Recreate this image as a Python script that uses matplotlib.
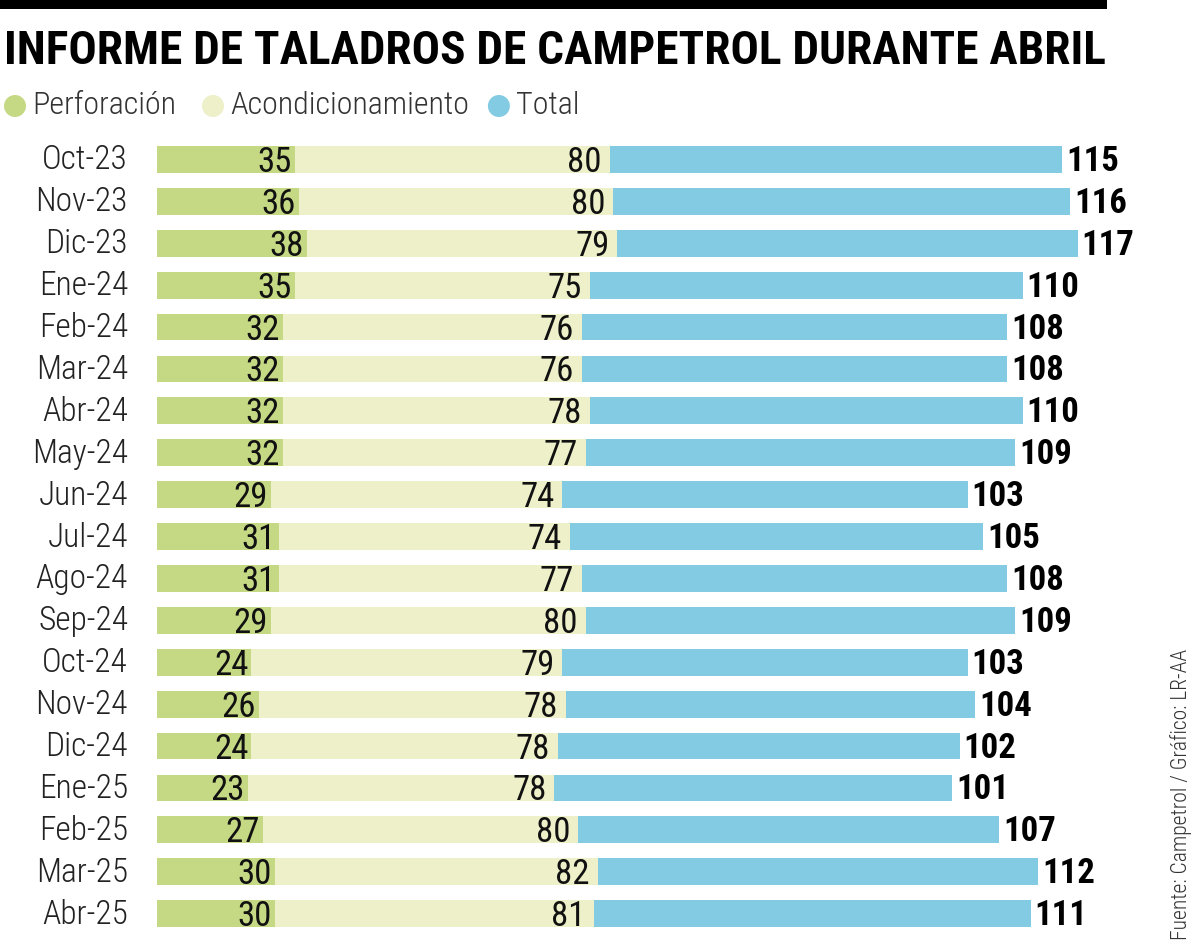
import os
import matplotlib
matplotlib.use("Agg")
import matplotlib.pyplot as plt
from matplotlib import font_manager as fm
from matplotlib.patches import Rectangle, Ellipse
from matplotlib.transforms import offset_copy

months = ["Oct-23", "Nov-23", "Dic-23", "Ene-24", "Feb-24", "Mar-24", "Abr-24", "May-24",
          "Jun-24", "Jul-24", "Ago-24", "Sep-24", "Oct-24", "Nov-24", "Dic-24", "Ene-25",
          "Feb-25", "Mar-25", "Abr-25"]
perforacion = [35, 36, 38, 35, 32, 32, 32, 32, 29, 31, 31, 29, 24, 26, 24, 23, 27, 30, 30]
acondicionamiento = [80, 80, 79, 75, 76, 76, 78, 77, 74, 74, 77, 80, 79, 78, 78, 78, 80, 82, 81]
total = [115, 116, 117, 110, 108, 108, 110, 109, 103, 105, 108, 109, 103, 104, 102, 101, 107, 112, 111]
series_names = ["Perforación", "Acondicionamiento", "Total"]
title = "INFORME DE TALADROS DE CAMPETROL DURANTE ABRIL"
source = "Fuente: Campetrol / Gráfico: LR-AA"

C_GREEN = "#c5d985"
C_PALE = "#edf0c8"
C_BLUE = "#82cbe3"
TXT = "#111111"

# ---- find a condensed / narrow font ----
def find_condensed():
    prefs = ["liberationsansnarrow", "robotocondensed", "opensans_condensed", "opensanscondensed",
             "opensans-condensed", "notosans-condensed", "notosanscondensed", "dejavusanscondensed"]
    files = []
    for f in fm.fontManager.ttflist:
        b = os.path.basename(f.fname).lower()
        if ("condensed" in b or "narrow" in b) and "italic" not in b and "oblique" not in b \
                and "extra" not in b and "semi" not in b and "ultra" not in b and "mono" not in b \
                and "serif" not in b:
            files.append((b, f))
    for p in prefs:
        cand = [(b, f) for b, f in files if b.startswith(p)]
        if not cand:
            continue
        reg = None
        bold = None
        light = None
        for b, f in cand:
            if "bold" in b and "semibold" not in b and "extrabold" not in b:
                bold = bold or f.fname
            elif "light" in b:
                light = light or f.fname
            elif not any(k in b for k in ["thin", "medium", "black", "bold"]):
                reg = reg or f.fname
        if reg:
            return reg, light or reg, bold or reg
    return None, None, None

reg_file, light_file, bold_file = find_condensed()
if reg_file:
    FP_REG = fm.FontProperties(fname=reg_file)
    FP_LIGHT = fm.FontProperties(fname=light_file)
    FP_BOLD = fm.FontProperties(fname=bold_file)
else:
    FP_REG = fm.FontProperties(family="DejaVu Sans", stretch="condensed")
    FP_LIGHT = FP_REG
    FP_BOLD = fm.FontProperties(family="DejaVu Sans", stretch="condensed", weight="bold")

def fp(base, size):
    p = base.copy()
    p.set_size(size)
    return p

W, H = 1200, 950
fig = plt.figure(figsize=(W / 100, H / 100), dpi=100)

def fx(px):
    return px / W

def fy(py):
    return 1 - py / H

fig.canvas.draw()
r = fig.canvas.get_renderer()

# top black rule
fig.patches.append(Rectangle((0, fy(9)), fx(1107), 9 / H, transform=fig.transFigure,
                             facecolor="black", edgecolor="none"))

# title (fit to width)
t = fig.text(fx(4), fy(51), title, fontproperties=fp(FP_BOLD, 31), color="black",
             ha="left", va="center")
bb = t.get_window_extent(r)
t.set_fontproperties(fp(FP_BOLD, 31 * 1100 / bb.width))

# legend
leg_items = [(15, series_names[0], C_GREEN), (213, series_names[1], C_PALE),
             (495, series_names[2], C_BLUE)]
prev_end = -100
for cx, name, col in leg_items:
    cx = max(cx, prev_end + 30)
    fig.patches.append(Ellipse((fx(cx), fy(106)), 22 / W, 22 / H, transform=fig.transFigure,
                               facecolor=col, edgecolor="none"))
    tt = fig.text(fx(cx + 17), fy(106), name, fontproperties=fp(FP_LIGHT, 23), color="#333333",
                  ha="left", va="center")
    prev_end = tt.get_window_extent(r).x1

# axes
scale = 3.935  # px per unit
left_px, top_px, row_h = 157, 138.5, 41.9
n = len(months)
ax = fig.add_axes([fx(left_px), fy(top_px + n * row_h), fx(W - left_px), n * row_h / H])
ax.set_xlim(0, (W - left_px) / scale)
ax.set_ylim(n - 0.5, -0.5)
ax.axis("off")

y = list(range(n))
bh = 0.64
ax.barh(y, perforacion, height=bh, color=C_GREEN, left=0)
ax.barh(y, acondicionamiento, height=bh, color=C_PALE, left=perforacion)
left2 = [p + a for p, a in zip(perforacion, acondicionamiento)]
ax.barh(y, total, height=bh, color=C_BLUE, left=left2)

tr_p = offset_copy(ax.transData, fig=fig, x=-3, y=-3, units="dots")
tr_a = offset_copy(ax.transData, fig=fig, x=-8, y=-3, units="dots")
tr_r = offset_copy(ax.transData, fig=fig, x=4, y=-2, units="dots")
for i in range(n):
    ax.text(perforacion[i], i, str(perforacion[i]), transform=tr_p, ha="right", va="center",
            fontproperties=fp(FP_REG, 25), color=TXT)
    ax.text(left2[i], i, str(acondicionamiento[i]), transform=tr_a, ha="right", va="center",
            fontproperties=fp(FP_REG, 25), color=TXT)
    ax.text(left2[i] + total[i], i, str(total[i]), transform=tr_r, ha="left", va="center",
            fontproperties=fp(FP_BOLD, 25), color="black")
    fig.text(fx(128), fy(top_px + (i + 0.5) * row_h + 1), months[i], ha="right", va="center",
             fontproperties=fp(FP_LIGHT, 24), color="#222222")

fig.text(fx(1181), fy(940), source, rotation=90, ha="center", va="bottom",
         fontproperties=fp(FP_LIGHT, 15.5), color="#333333")

fig.savefig("out.png", dpi=100)
